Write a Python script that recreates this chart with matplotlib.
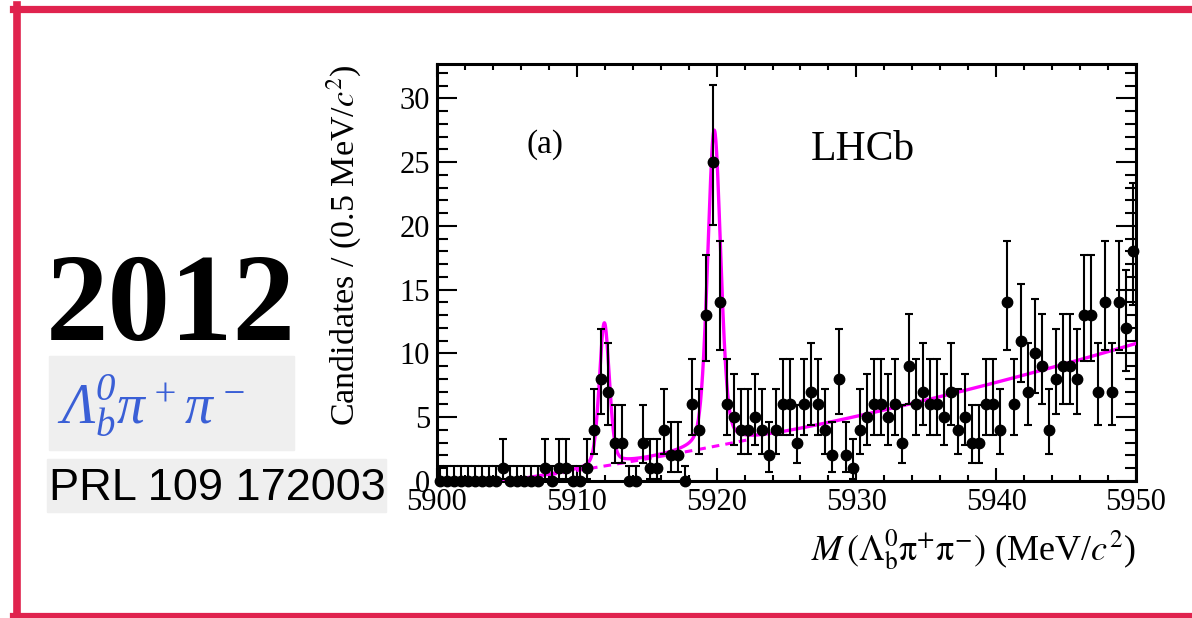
import numpy as np
import matplotlib
matplotlib.use('Agg')
import matplotlib.pyplot as plt
from matplotlib.lines import Line2D
from matplotlib.patches import Rectangle

# 0.5 MeV bins from 5900 to 5950
bin_lo = 5900.0
bin_width = 0.5
counts = [0, 0, 0, 0, 0, 0, 0, 0, 0, 1,
          0, 0, 0, 0, 0, 1, 0, 1, 1, 0,
          0, 1, 4, 8, 7, 3, 3, 0, 0, 3,
          1, 1, 4, 2, 2, 0, 6, 4, 13, 25,
          14, 6, 5, 4, 4, 5, 4, 2, 4, 6,
          6, 3, 6, 7, 6, 4, 2, 8, 2, 1,
          4, 5, 6, 6, 5, 6, 3, 9, 6, 7,
          6, 6, 5, 7, 4, 5, 3, 3, 6, 6,
          4, 14, 6, 11, 7, 10, 9, 4, 8, 9,
          9, 8, 13, 13, 7, 14, 7, 14, 12, 18]

# fit model
bkg_threshold = 5905.0
bkg_lin = 0.155
bkg_quad = 0.00188
peak_pos = [5911.97, 5919.83]
peak_amp = [11.2, 24.8]
peak_fwhm = [0.85, 1.1]
lorentz_frac = 0.3

x_ticks = [5900, 5910, 5920, 5930, 5940, 5950]
y_ticks = [0, 5, 10, 15, 20, 25, 30]

RED = '#e0234e'
MAGENTA = '#ff00ff'

plt.rcParams['font.family'] = ['Liberation Serif', 'DejaVu Serif']
plt.rcParams['mathtext.fontset'] = 'stix'
# italic-only math set, used for the blue decay label
plt.rcParams['mathtext.rm'] = 'Liberation Serif:italic'
plt.rcParams['mathtext.it'] = 'Liberation Serif:italic'


def background(m):
    x = np.clip(m - bkg_threshold, 0, None)
    return bkg_lin * x + bkg_quad * x ** 2


def peak(m, mu, amp, fwhm):
    # pseudo-Voigt line shape
    d = m - mu
    lor = 1.0 / (1.0 + (2 * d / fwhm) ** 2)
    gau = np.exp(-4 * np.log(2) * (d / fwhm) ** 2)
    return amp * (lorentz_frac * lor + (1 - lorentz_frac) * gau)


def poisson_errors(n):
    n = np.asarray(n, dtype=float)
    up = np.sqrt(n + 0.75) + 1.0
    up[n == 0] = -np.log(0.32)
    nn = np.maximum(n, 1)
    lo = n - n * (1 - 1 / (9 * nn) - 1 / (3 * np.sqrt(nn))) ** 3
    lo[n == 0] = 0.0
    return lo, up


fig = plt.figure(figsize=(11.92, 6.18), dpi=100, facecolor='w')
W, H = 1192.0, 618.0


def fx(px):
    return px / W


def fy(py):
    return 1 - py / H


ax = fig.add_axes([fx(437), fy(481), (1136 - 437) / W, (481 - 64) / H])

n = np.array(counts, dtype=float)
centers = bin_lo + bin_width * (np.arange(len(n)) + 0.5)
lo, up = poisson_errors(n)

mf = np.linspace(5900, 5950, 2001)
bkg = background(mf)
total = bkg + sum(peak(mf, mu, a, w) for mu, a, w in zip(peak_pos, peak_amp, peak_fwhm))

sel = (mf > 5908.0) & (mf < 5922.5)
ax.plot(mf[sel], bkg[sel], color=MAGENTA, lw=2.2, ls=(0, (2.5, 2.0)), zorder=2)
ax.plot(mf, total, color=MAGENTA, lw=2.4, zorder=3)

eb = ax.errorbar(centers, n, yerr=[lo, up], fmt='o', color='black', ms=7.5,
                 elinewidth=1.5, capsize=2.6, capthick=1.5, zorder=4)
for art in [eb[0], *eb[1], *eb[2]]:
    art.set_clip_on(False)

ax.set_xlim(5900, 5950)
ax.set_ylim(0, 32.7)
ax.set_xticks(x_ticks)
ax.set_yticks(y_ticks)
ax.set_xticks(np.arange(5900, 5951, 2), minor=True)
ax.set_yticks(np.arange(0, 33, 1), minor=True)

ax.tick_params(axis='both', which='both', direction='in', top=True, right=True,
               width=1.5, labelsize=22)
ax.tick_params(axis='y', which='major', length=14.5, pad=5)
ax.tick_params(axis='y', which='minor', length=8)
ax.tick_params(axis='x', which='major', length=9.5, pad=5)
ax.tick_params(axis='x', which='minor', length=4.5)
for sp in ax.spines.values():
    sp.set_linewidth(2.2)

ax.set_ylabel(r'Candidates / (0.5 MeV/$c^2$)', fontsize=24.5)
ax.yaxis.set_label_coords(-0.106, 0.566)
ax.set_xlabel(r'$M\,(\mathrm{\Lambda}_{\mathrm{b}}^{0}\mathrm{\pi}^{+}\mathrm{\pi}^{-})$ (MeV/$c^2$)',
              fontsize=26, ha='right', va='center')
ax.xaxis.set_label_coords(1.0, -0.165)

ax.text(0.1545, 0.806, '(a)', transform=ax.transAxes, fontsize=24, ha='center', va='center')
ax.text(0.609, 0.794, 'LHCb', transform=ax.transAxes, fontsize=30, ha='center', va='center')

# left panel
fig.text(fx(46), fy(340), '2012', fontsize=90, fontweight='bold', ha='left', va='baseline')
fig.add_artist(Rectangle((fx(49), fy(450)), (294 - 49) / W, (450 - 356) / H,
                         transform=fig.transFigure, color='#efefef', zorder=0))
fig.text(fx(57), fy(423), r'$\Lambda_b^0\pi^+\pi^-$', fontsize=40,
         color='#3a5fd6', ha='left', va='baseline', math_fontfamily='custom')
fig.add_artist(Rectangle((fx(47), fy(512)), (386 - 47) / W, (512 - 459) / H,
                         transform=fig.transFigure, color='#efefef', zorder=0))
fig.text(fx(49), fy(500), 'PRL 109 172003', fontsize=32.5, family='Liberation Sans',
         ha='left', va='baseline')

# red frame
fig.add_artist(Line2D([fx(17), fx(17)], [fy(5), fy(618)], color=RED, lw=5.5,
                      transform=fig.transFigure))
fig.add_artist(Line2D([fx(13), fx(1192)], [fy(8.5), fy(8.5)], color=RED, lw=5.2,
                      transform=fig.transFigure))
fig.add_artist(Line2D([fx(13), fx(1192)], [fy(616), fy(616)], color=RED, lw=5.2,
                      transform=fig.transFigure))

plt.savefig('out.png', dpi=100)
